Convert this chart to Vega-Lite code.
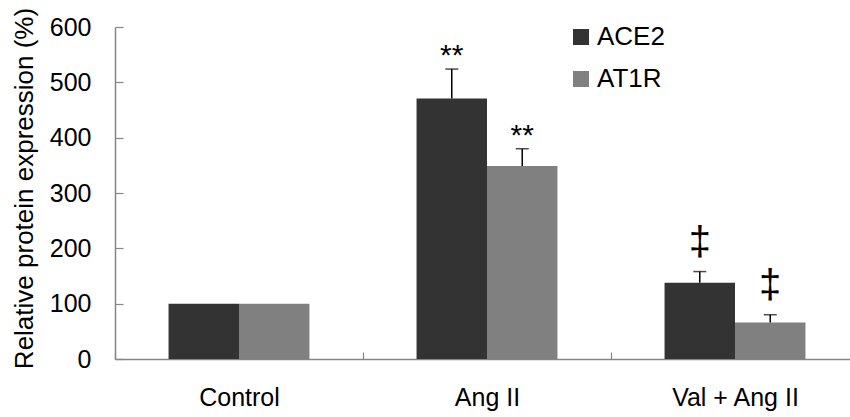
{
  "$schema": "https://vega.github.io/schema/vega-lite/v6.json",
  "width": 735,
  "height": 332,
  "autosize": "none",
  "padding": {"left": 115, "top": 27, "right": 0, "bottom": 58},
  "config": {"view": {"stroke": null}, "font": "Liberation Sans",
             "axisY": {"labelPadding": 32, "tickSize": -8, "labelFontSize": 25, "labelColor": "#000000", "grid": false,
                       "tickColor": "#868686", "domainColor": "#868686", "domainWidth": 1.5, "tickWidth": 1.2}},
  "data": {
    "values": [
      {"group": "Control", "series": "ACE2", "value": 100, "upper": 100, "note": ""},
      {"group": "Control", "series": "AT1R", "value": 100, "upper": 100, "note": ""},
      {"group": "Ang II", "series": "ACE2", "value": 471, "upper": 524, "note": "**", "noteY": 557},
      {"group": "Ang II", "series": "AT1R", "value": 349, "upper": 380, "note": "**", "noteY": 412},
      {"group": "Val + Ang II", "series": "ACE2", "value": 138, "upper": 158, "note": "‡", "noteY": 213},
      {"group": "Val + Ang II", "series": "AT1R", "value": 66, "upper": 80, "note": "‡", "noteY": 135}
    ]
  },
  "encoding": {
    "x": {
      "field": "group", "type": "nominal", "sort": ["Control", "Ang II", "Val + Ang II"],
      "scale": {"range": [0, 744], "paddingInner": 0, "paddingOuter": 0},
      "axis": {"title": null, "labelAngle": 0, "labelFontSize": 25, "labelColor": "#000000", "labelPadding": 33,
               "tickBand": "extent", "tickSize": -7, "tickColor": "#868686", "domainColor": "#868686", "domainWidth": 1.5, "tickWidth": 1.2}
    },
    "xOffset": {"field": "series", "type": "nominal", "sort": ["ACE2", "AT1R"], "scale": {"paddingInner": 0, "paddingOuter": 0.76}}
  },
  "layer": [
    {
      "mark": {"type": "bar"},
      "encoding": {
        "y": {"field": "value", "type": "quantitative", "scale": {"domain": [0, 600], "nice": false},
              "axis": {"title": "Relative protein expression (%)", "titleFontSize": 26, "titleFontWeight": "normal", "titleColor": "#000000",
                       "titleX": -91, "titleY": 161, "titleAngle": -90, "titleBaseline": "middle", "titleLimit": 1000,
                       "values": [0, 100, 200, 300, 400, 500, 600], "labelPadding": 32}},
        "color": {"field": "series", "type": "nominal", "sort": ["ACE2", "AT1R"],
                  "scale": {"range": ["#333333", "#808080"]},
                  "legend": {"title": null, "orient": "none", "legendX": 453, "legendY": -3, "padding": 0,
                             "symbolType": "square", "symbolSize": 256, "symbolStrokeWidth": 0, "symbolOpacity": 1,
                             "labelFontSize": 26, "labelColor": "#000000", "labelOffset": 3, "rowPadding": 16}}
      }
    },
    {
      "transform": [{"filter": "datum.upper > datum.value"}],
      "mark": {"type": "rule", "color": "#000000", "strokeWidth": 1.5},
      "encoding": {"y": {"field": "value", "type": "quantitative", "axis": {"labelPadding": 32, "title": "Relative protein expression (%)"}}, "y2": {"field": "upper"}}
    },
    {
      "transform": [{"filter": "datum.upper > datum.value"}],
      "mark": {"type": "tick", "color": "#000000", "size": 13, "thickness": 1.5, "orient": "horizontal"},
      "encoding": {"y": {"field": "upper", "type": "quantitative", "axis": {"labelPadding": 32, "title": "Relative protein expression (%)"}}}
    },
    {
      "transform": [{"filter": "datum.note == '**'"}],
      "mark": {"type": "text", "fontSize": 30, "baseline": "middle", "color": "#000000", "dy": 5},
      "encoding": {"y": {"field": "noteY", "type": "quantitative", "axis": {"labelPadding": 32, "title": "Relative protein expression (%)"}}, "text": {"field": "note"}}
    },
    {
      "transform": [{"filter": "datum.note == '‡'"}],
      "mark": {"type": "text", "fontSize": 40, "baseline": "middle", "color": "#000000", "dy": 2},
      "encoding": {"y": {"field": "noteY", "type": "quantitative", "axis": {"labelPadding": 32, "title": "Relative protein expression (%)"}}, "text": {"field": "note"}}
    }
  ]
}
